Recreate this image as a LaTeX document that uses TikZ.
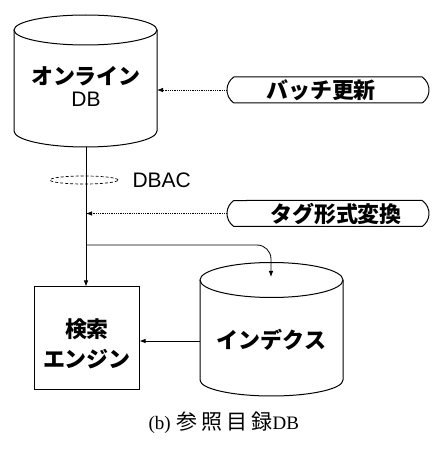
\documentclass[tikz,border=0pt]{standalone}
\usepackage{fontspec}
\setmainfont{Liberation Serif}
\newfontfamily\jp{Noto Sans CJK JP}
\newfontfamily\lat{Liberation Sans}
\usetikzlibrary{arrows.meta,shapes.misc}
\begin{document}
\begin{tikzpicture}[x=1pt,y=1pt,
  line width=1pt,
  jplbl/.style={inner sep=0pt,font=\jp\bfseries\fontsize{22}{22}\selectfont},
  latlbl/.style={inner sep=0pt,font=\lat\fontsize{21}{21}\selectfont},
  tip/.style={-{Latex[length=6pt,width=4.5pt]}},
  dotarrow/.style={tip,densely dotted,line width=0.8pt},
  pill/.style={draw,rounded rectangle,rounded rectangle arc length=110,minimum width=202pt,minimum height=26pt,inner sep=0pt},
  box/.style={draw,rectangle,minimum width=105pt,minimum height=103pt,inner sep=0pt}]
\useasboundingbox (0,0) rectangle (435,451);
% Online DB cylinder
\draw (14,421) -- (14,320) arc[start angle=180,end angle=360,x radius=71.5pt,y radius=16pt] -- (157,421);
\draw (85.5,421) ellipse[x radius=71.5pt,y radius=15pt];
\node[jplbl] (onl) at (86,375) {オンライン};
\node[latlbl] (db) at (86,352) {DB};
\coordinate (dbR) at (157,361);
\coordinate (dbB) at (86,304);
% Index cylinder
\draw (200,171) -- (200,71) arc[start angle=180,end angle=360,x radius=71.5pt,y radius=16pt] -- (343,171);
\draw (271.5,171) ellipse[x radius=71.5pt,y radius=17.5pt];
\node[jplbl] (idx) at (271.5,111) {インデクス};
\coordinate (idxT) at (271,174);
\coordinate (idxL) at (200,110);
% pills
\node[pill] (batch) at (328,361) {};
\node[jplbl] (batchT) at (321,361) {バッチ更新};
\node[pill] (tag) at (328,237.5) {};
\node[jplbl] (tagT) at (336,237.5) {タグ形式変換};
% engine
\node[box] (eng) at (86.5,112.5) {};
\node[jplbl] (eng1) at (87,122) {検索};
\node[jplbl] (eng2) at (87,92) {エンジン};
% DBAC
\draw[dashed,line width=0.7pt,dash pattern=on 3pt off 2pt] (84,271) ellipse[x radius=34pt,y radius=4pt];
\node[latlbl,anchor=west] (dbac) at (132,271) {DBAC};
% connectors
\coordinate (tagJ) at (86,237.5);
\coordinate (brJ) at (86,206);
\draw[tip,line width=0.8pt] (dbB) -- (eng.north -| dbB);
\draw[dotarrow] (batch.west) -- (dbR);
\draw[dotarrow] (tag.west) -- (tagJ);
\draw[tip,line width=0.8pt,rounded corners=14pt] (brJ) -| (idxT);
\draw[tip,line width=0.8pt] (idxL) -- (eng.east |- idxL);
% caption
\node[inner sep=0pt,anchor=west,font=\fontsize{19}{19}\selectfont] (cap) at (148,28) {(b)\hspace{6pt}{\jp\fontsize{21}{21}\selectfont 参\hspace{4pt}照\hspace{4pt}目\hspace{4pt}録}DB};
\end{tikzpicture}
\end{document}
